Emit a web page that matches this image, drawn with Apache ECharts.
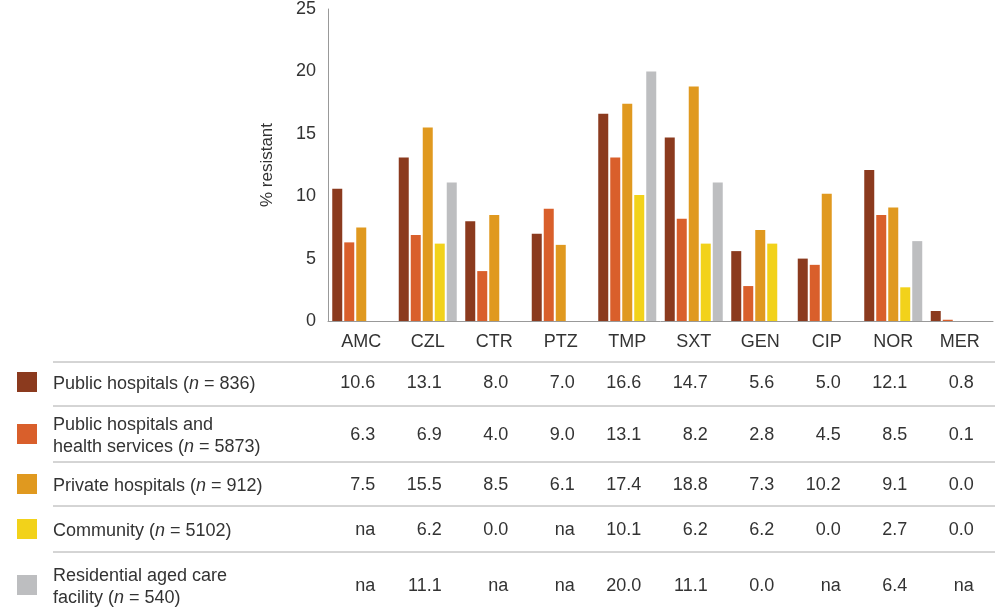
<!DOCTYPE html>
<html>
<head>
<meta charset="utf-8">
<script src="https://cdn.jsdelivr.net/npm/echarts@6/dist/echarts.min.js"></script>
</head>
<body style="margin:0">
<div id="main" style="width:1004px;height:608px;"></div>
<script>
var categories = ['AMC', 'CZL', 'CTR', 'PTZ', 'TMP', 'SXT', 'GEN', 'CIP', 'NOR', 'MER'];
var seriesNames = ['Public hospitals', 'Public hospitals and health services', 'Private hospitals', 'Community', 'Residential aged care facility'];
var publicHosp = [10.6, 13.1, 8.0, 7.0, 16.6, 14.7, 5.6, 5.0, 12.1, 0.8];
var publicHealth = [6.3, 6.9, 4.0, 9.0, 13.1, 8.2, 2.8, 4.5, 8.5, 0.1];
var privateHosp = [7.5, 15.5, 8.5, 6.1, 17.4, 18.8, 7.3, 10.2, 9.1, 0.0];
var community = [null, 6.2, 0.0, null, 10.1, 6.2, 6.2, 0.0, 2.7, 0.0];
var aged = [null, 11.1, null, null, 20.0, 11.1, 0.0, null, 6.4, null];
var colors = ['#8b3a1e', '#d95f2b', '#e0991f', '#f2d21a', '#bdbec0'];
var rowLabels = [
    [['Public hospitals (', '836)']],
    [['Public hospitals and', null], ['health services (', '5873)']],
    [['Private hospitals (', '912)']],
    [['Community (', '5102)']],
    [['Residential aged care', null], ['facility (', '540)']]
];
var rowY = [384, 436, 486, 531, 587];
var sepY = [362, 406, 462, 506, 552];
var allData = [publicHosp, publicHealth, privateHosp, community, aged];

var font = 'Liberation Sans, Arial, sans-serif';
var chart = echarts.init(document.getElementById('main'));
chart.setOption({
    animation: false,
    grid: { left: 328, right: 11, top: 7, bottom: 287 },
    xAxis: {
        type: 'category', data: categories,
        axisLine: { lineStyle: { color: '#999' } },
        axisTick: { show: false },
        axisLabel: { color: '#333', fontSize: 18, fontFamily: font, margin: 12 }
    },
    yAxis: {
        type: 'value', min: 0, max: 25, interval: 5,
        name: '% resistant', nameLocation: 'middle', nameGap: 52,
        nameTextStyle: { color: '#333', fontSize: 17, fontFamily: font },
        axisLine: { show: true, lineStyle: { color: '#999' } },
        axisTick: { show: false },
        splitLine: { show: false },
        axisLabel: { color: '#333', fontSize: 18, fontFamily: font, margin: 12 }
    },
    series: allData.map(function (d, i) {
        return { type: 'bar', name: seriesNames[i], data: d, barWidth: 10, barGap: '20%',
                 itemStyle: { color: colors[i] } };
    })
});

var g = [];
sepY.forEach(function (y) {
    g.push({ type: 'line', shape: { x1: 53, y1: y, x2: 995, y2: y }, style: { stroke: '#aaa', lineWidth: 1 } });
});
rowLabels.forEach(function (lines, r) {
    g.push({ type: 'rect', shape: { x: 17, y: rowY[r] - 12, width: 20, height: 20 }, style: { fill: colors[r] } });
    var n = lines.length;
    lines.forEach(function (ln, k) {
        var y = rowY[r] + (k - (n - 1) / 2) * 22;
        var t = ln[1] === null ? '{a|' + ln[0] + '}' : '{a|' + ln[0] + '}{i|n}{a| = ' + ln[1] + '}';
        g.push({ type: 'text', x: 53, y: y, style: {
            text: t, verticalAlign: 'middle', align: 'left',
            rich: { a: { fontSize: 18, fontFamily: font, fill: '#333' },
                    i: { fontSize: 18, fontFamily: font, fontStyle: 'italic', fill: '#333' } }
        } });
    });
    allData[r].forEach(function (v, c) {
        var x = chart.convertToPixel({ xAxisIndex: 0 }, categories[c]);
        g.push({ type: 'text', x: x + 14, y: rowY[r] - 1, style: {
            text: v === null ? 'na' : v.toFixed(1), align: 'right', verticalAlign: 'middle',
            fontSize: 18, fontFamily: font, fill: '#333'
        } });
    });
});
chart.setOption({ graphic: g });
</script>
</body>
</html>
